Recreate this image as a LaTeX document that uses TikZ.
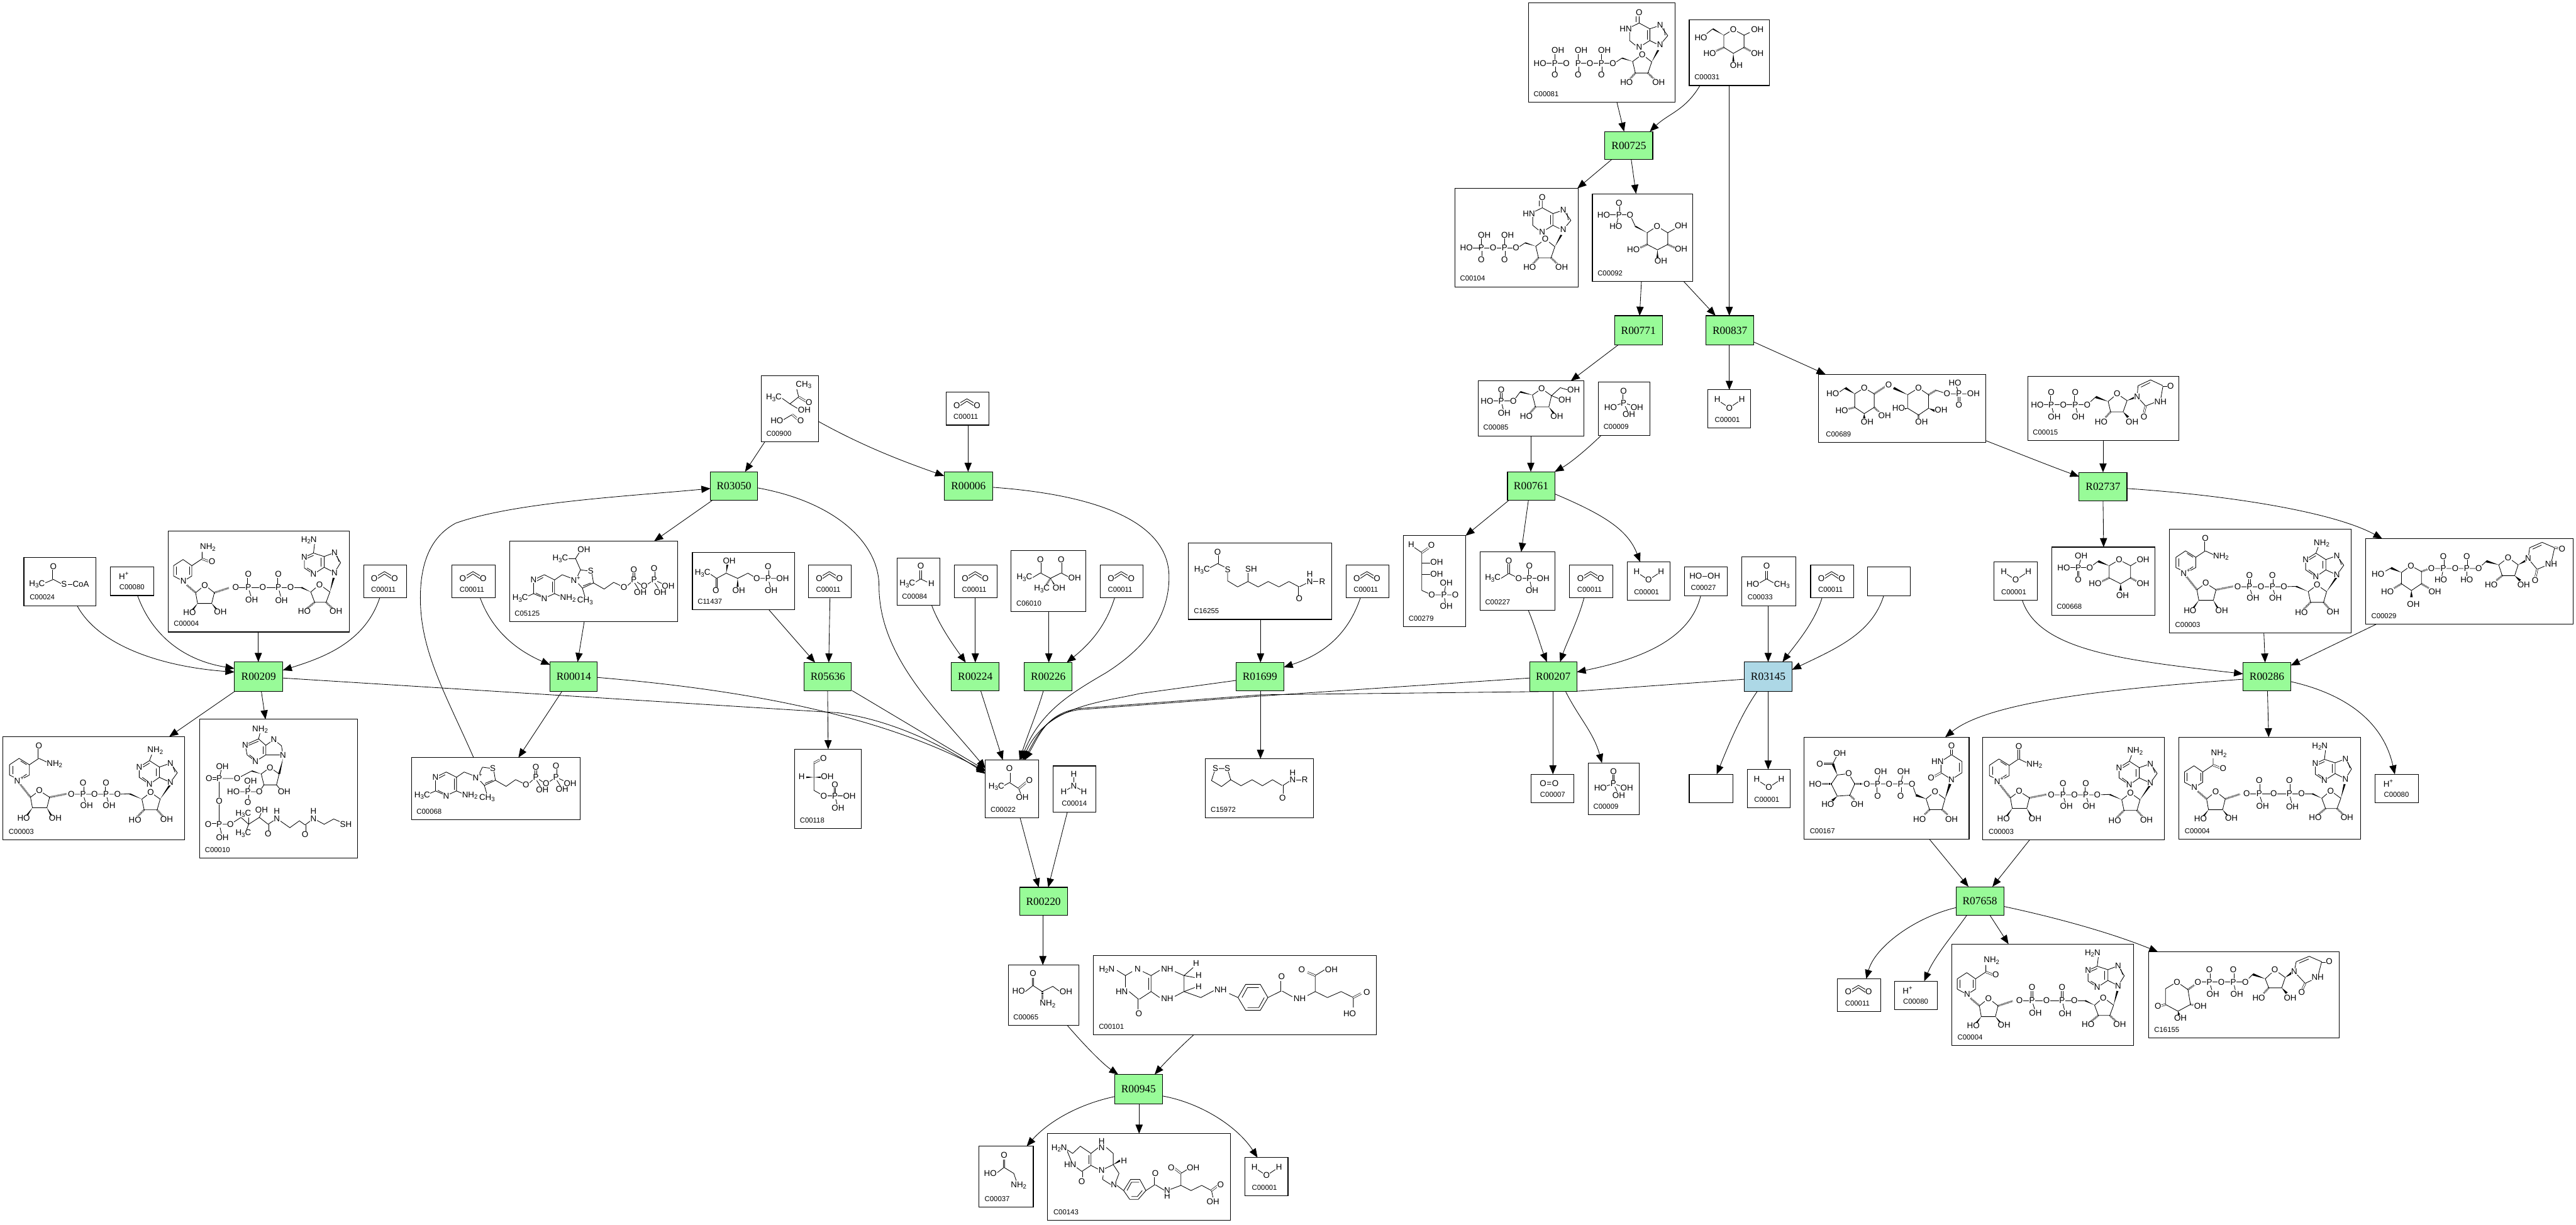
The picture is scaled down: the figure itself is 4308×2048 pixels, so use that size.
\documentclass[tikz,border=0pt]{standalone}
\usepackage{fontspec}
\setmainfont{Liberation Sans}
\newfontfamily\rfont{Liberation Serif}
\usetikzlibrary{arrows.meta,calc}
\pgfdeclarelayer{edgelayer}
\pgfsetlayers{edgelayer,main}
\newcounter{atmc}
\tikzset{
 x=0.01cm,y=-0.01cm,
 cbox/.style={draw=black,line width=0.32pt,fill=white,inner sep=0pt,outer sep=0pt},
 rbox/.style={draw=black,line width=0.32pt,inner sep=0pt,outer sep=0pt,font=\rfont\fontsize{5.2pt}{6pt}\selectfont},
 idl/.style={inner sep=0pt,font=\fontsize{3.4pt}{4pt}\selectfont,anchor=west},
 atom/.style={inner sep=0.15pt,fill=white,font=\fontsize{4pt}{4.8pt}\selectfont},
 bond/.style={line width=0.25pt,line join=round},
 dbond/.style={line width=0.2pt,double=white,double distance=0.55pt},
 hbond/.style={line width=0.9pt,dash pattern=on 0.2pt off 0.35pt},
 conn/.style={line width=0.25pt,-{Triangle[length=0.15cm,width=0.12cm]}},
 z1/.style={shift={(2400,0)},xscale=.6378,yscale=.3571},
 z2/.style={shift={(0,860)},xscale=.6378,yscale=.3827},
 z3/.style={shift={(1600,1000)},xscale=.5102,yscale=.6684},
 z4/.style={shift={(650,600)},xscale=.6378,yscale=.5102},
 z5/.style={shift={(2300,560)},xscale=.6378,yscale=.5357},
 z6/.style={shift={(3000,600)},xscale=.8342,yscale=.7526},
 z7/.style={shift={(1680,890)},xscale=.357,yscale=.333},
}
\newcommand\sbs[1]{\raisebox{-.35ex}{\fontsize{2.9pt}{3pt}\selectfont #1}}
\newcommand\sps[1]{\raisebox{.8ex}{\fontsize{2.9pt}{3pt}\selectfont #1}}
\newcommand\cpd[7]{\node[cbox,minimum width={(#4-#2)*0.01cm},minimum height={(#5-#3)*0.01cm}] (#1) at ({(#2+#4)/2},{(#3+#5)/2}) {};
 \node[idl] (#1id) at ({#2+#7},{#5-14}) {#6};}
\newcommand\rxn[7]{\node[rbox,fill=#7,minimum width={(#4-#2)*0.01cm},minimum height={(#5-#3)*0.01cm}] (#1) at ({(#2+#4)/2},{(#3+#5)/2}) {#6};}
\newcommand\atm[3]{\stepcounter{atmc}\node[atom] (atm\arabic{atmc}) at (#1,#2) {#3};}
\newcommand\bnd[1]{\draw[bond] #1;}
\newcommand\dbb[1]{\draw[dbond] #1;}
\newcommand\wdg[2]{\fill (#1) -- ($(#2)!0.75pt!90:(#1)$) -- ($(#2)!0.75pt!-90:(#1)$) -- cycle;}
\newcommand\hsh[2]{\draw[hbond] (#1) -- (#2);}
\newcommand\pS[2]{(#1.south -| #2,0)}
\newcommand\pN[2]{(#1.north -| #2,0)}
\newcommand\pW[2]{(#1.west |- 0,#2)}
\newcommand\pE[2]{(#1.east |- 0,#2)}
\newcommand\eL[2]{\draw[conn] #1 -- #2;}
\newcommand\eC[4]{\draw[conn] #1 .. controls (#2) and (#3) .. #4;}
% small repeated compounds
\newcommand\cotwo[3]{\cpd{#1}{#2}{#3}{#2+72}{#3+55}{C00011}{12}
 \begin{scope}[shift={(#2,#3)}]\bnd{(18,21)--(35,11)--(52,21)}\bnd{(23,23)--(35,15)--(47,23)}\atm{18}{22}{O}\atm{52}{22}{O}\end{scope}}
\newcommand\wat[3]{\cpd{#1}{#2}{#3}{#2+72}{#3+64}{C00001}{11}
 \begin{scope}[shift={(#2,#3)}]\bnd{(16,17)--(36,30)--(57,16)}\atm{16}{16}{H}\atm{36}{30}{O}\atm{57}{16}{H}\end{scope}}
\newcommand\hplus[3]{\cpd{#1}{#2}{#3}{#2+72}{#3+48}{C00080}{14}
 \begin{scope}[shift={(#2,#3)}]\atm{22}{15}{H\sps{+}}\end{scope}}
\newcommand\nadp[2]{\begin{scope}[shift={(#1,#2)},z2]
 \bnd{(52,1162)--(25,1140)--(25,1095)--(50,1067)--(77,1095)--(77,1140)--cycle}
 \bnd{(33,1135)--(33,1100)}\bnd{(54,1078)--(70,1095)}\bnd{(70,1136)--(58,1150)}
 \bnd{(77,1095)--(102,1067)--(125,1085)}\dbb{(102,1067)--(102,1025)}
 \bnd{(80,1237)--(103,1208)--(130,1237)--(123,1283)--(85,1283)--cycle}
 \hsh{52,1178}{80,1237}\hsh{130,1237}{175,1222}
 \bnd{(187,1224)--(308,1224)--(340,1222)}\wdg{372,1245}{340,1222}
 \dbb{(218,1224)--(218,1190)}\dbb{(278,1224)--(278,1190)}\bnd{(218,1224)--(224,1258)}\bnd{(278,1224)--(284,1258)}
 \bnd{(372,1245)--(395,1216)--(420,1245)--(412,1292)--(378,1292)--cycle}
 \wdg{85,1283}{70,1318}\wdg{123,1283}{135,1318}\hsh{378,1292}{360,1322}\hsh{412,1292}{428,1322}\wdg{420,1245}{445,1185}
 \bnd{(392,1077)--(365,1105)--(365,1150)--(392,1180)--(418,1150)--(418,1105)--cycle}
 \bnd{(410,1145)--(410,1110)}\bnd{(373,1150)--(388,1168)}\bnd{(392,1088)--(375,1105)}\bnd{(452,1095)--(459,1128)}
 \bnd{(418,1105)--(447,1088)--(465,1130)--(447,1172)--(418,1150)}\bnd{(392,1077)--(398,1050)}
 \atm{50}{1163}{N\sps{+}}\atm{102}{1012}{O}\atm{143}{1092}{NH\sbs{2}}\atm{103}{1208}{O}
 \atm{62}{1328}{HO}\atm{145}{1328}{OH}\atm{187}{1224}{O}\atm{218}{1224}{P}\atm{218}{1175}{O}\atm{227}{1272}{OH}
 \atm{248}{1224}{O}\atm{278}{1224}{P}\atm{278}{1175}{O}\atm{286}{1272}{OH}\atm{308}{1224}{O}\atm{395}{1216}{O}
 \atm{354}{1335}{HO}\atm{437}{1333}{OH}\atm{447}{1172}{N}\atm{407}{1033}{NH\sbs{2}}\atm{365}{1105}{N}\atm{392}{1180}{N}\atm{447}{1088}{N}
 \end{scope}}
\newcommand\nadh[2]{\begin{scope}[shift={(#1,#2)},z2]
 \bnd{(481,293)--(455,270)--(455,225)--(480,198)--(503,225)--(503,270)--cycle}
 \bnd{(462,265)--(462,230)}\bnd{(497,230)--(497,265)}
 \bnd{(503,225)--(530,195)--(530,165)}\dbb{(530,195)--(550,208)}
 \hsh{490,310}{513,343}\bnd{(513,343)--(537,310)--(562,343)--(555,390)--(518,390)--cycle}
 \hsh{562,343}{600,322}\bnd{(618,320)--(762,320)--(790,320)}\wdg{815,340}{790,320}
 \dbb{(651,320)--(651,278)}\dbb{(730,320)--(730,278)}\bnd{(651,320)--(658,358)}\bnd{(730,320)--(736,360)}
 \bnd{(815,340)--(838,307)--(865,340)--(855,385)--(825,385)--cycle}
 \hsh{825,385}{805,412}\hsh{855,385}{872,412}\wdg{865,340}{875,278}\wdg{518,390}{505,418}\wdg{555,390}{568,416}
 \bnd{(822,170)--(798,188)--(798,235)--(822,262)--(850,232)--(850,185)--cycle}
 \bnd{(842,228)--(842,190)}\bnd{(805,235)--(820,250)}\bnd{(822,180)--(806,192)}\bnd{(882,175)--(889,208)}
 \bnd{(850,185)--(877,168)--(893,212)--(877,255)--(850,232)}\bnd{(822,170)--(825,127)}
 \atm{481}{293}{N}\atm{556}{208}{O}\atm{545}{145}{NH\sbs{2}}\atm{537}{310}{O}\atm{497}{430}{HO}\atm{578}{427}{OH}
 \atm{618}{320}{O}\atm{651}{320}{P}\atm{651}{262}{O}\atm{660}{374}{OH}\atm{689}{320}{O}\atm{730}{320}{P}\atm{730}{262}{O}\atm{738}{376}{OH}\atm{762}{320}{O}
 \atm{838}{307}{O}\atm{798}{424}{HO}\atm{881}{424}{OH}\atm{877}{255}{N}\atm{877}{168}{N}\atm{798}{188}{N}\atm{822}{262}{N}\atm{810}{113}{H\sbs{2}N}
 \end{scope}}
\newcommand\idpcore{%
 \bnd{(535,72)--(535,108)--(512,128)}\bnd{(510,145)--(510,190)--(525,212)}\bnd{(545,210)--(563,190)--(563,135)--(535,108)}
 \bnd{(557,142)--(557,186)}\bnd{(527,72)--(527,102)}\bnd{(600,132)--(603,165)}
 \bnd{(563,135)--(585,122)}\bnd{(595,130)--(610,167)--(597,195)}\bnd{(580,205)--(563,190)}
 \bnd{(518,288)--(543,255)--(568,290)--(558,342)--(525,342)--cycle}
 \wdg{568,290}{585,235}\hsh{525,342}{510,372}\hsh{558,342}{575,372}\wdg{518,288}{490,272}\bnd{(490,272)--(475,290)}
 \bnd{(466,296)--(375,296)}\bnd{(436,280)--(436,252)}\bnd{(375,280)--(375,252)}\dbb{(436,296)--(436,335)}\dbb{(375,296)--(375,335)}
 \atm{535}{60}{O}\atm{500}{135}{HN}\atm{535}{220}{N}\atm{590}{117}{N}\atm{590}{208}{N}\atm{543}{255}{O}\atm{502}{385}{HO}\atm{586}{385}{OH}
 \atm{466}{296}{O}\atm{436}{296}{P}\atm{406}{296}{O}\atm{375}{296}{P}\atm{444}{236}{OH}\atm{383}{236}{OH}\atm{436}{350}{O}\atm{375}{350}{O}}
\newcommand\thcore{%
 \bnd{(380,725)--(408,708)--(435,725)--(435,770)--(408,785)--(380,770)--cycle}
 \bnd{(429,730)--(429,766)}\bnd{(386,730)--(405,717)}\bnd{(386,768)--(405,780)}
 \bnd{(380,770)--(362,780)}\bnd{(435,770)--(457,782)}\bnd{(435,725)--(455,708)--(480,720)}
 \bnd{(490,727)--(503,692)--(532,697)--(537,735)--(508,752)--cycle}\bnd{(530,735)--(510,745)}\bnd{(508,752)--(515,782)}
 \bnd{(537,735)--(565,755)--(590,733)--(610,745)}\bnd{(625,745)--(643,725)--(663,742)}\bnd{(678,740)--(696,725)--(722,740)}
 \dbb{(643,725)--(643,700)}\dbb{(696,725)--(696,697)}\bnd{(645,735)--(655,755)}\bnd{(698,735)--(708,755)}
 \atm{380}{725}{N}\atm{408}{787}{N}\atm{345}{785}{H\sbs{3}C}\atm{470}{785}{NH\sbs{2}}\atm{490}{725}{N\sps{+}}\atm{530}{696}{S}\atm{515}{793}{CH\sbs{3}}
 \atm{617}{750}{O}\atm{643}{725}{P}\atm{643}{692}{O}\atm{660}{766}{OH}\atm{670}{745}{O}\atm{696}{725}{P}\atm{696}{688}{O}\atm{712}{765}{OH}\atm{733}{745}{OH}}
\newcommand\phos[2]{\begin{scope}[shift={(#1,#2)},z5]
 \bnd{(651,212)--(617,226)}\bnd{(651,212)--(686,226)}\bnd{(651,212)--(665,248)}\dbb{(651,212)--(651,185)}
 \atm{651}{175}{O}\atm{651}{212}{P}\atm{617}{226}{HO}\atm{686}{226}{OH}\atm{665}{248}{OH}\end{scope}}
\begin{document}
\begin{tikzpicture}
\useasboundingbox (0,0) rectangle (4308,2048);
\definecolor{pg}{RGB}{152,251,152}
\definecolor{lb}{RGB}{173,216,230}
% reactions
\rxn{r725}{2684}{220}{2764}{267}{R00725}{pg}
\rxn{r771}{2700}{528}{2780}{577}{R00771}{pg}
\rxn{r837}{2853}{528}{2933}{577}{R00837}{pg}
\rxn{r761}{2521}{789}{2600}{837}{R00761}{pg}
\rxn{r2737}{3477}{790}{3557}{838}{R02737}{pg}
\rxn{r3145}{2917}{1107}{2997}{1156}{R03145}{lb}
\rxn{r207}{2558}{1107}{2637}{1156}{R00207}{pg}
\rxn{r286}{3751}{1108}{3831}{1155}{R00286}{pg}
\rxn{r7658}{3271}{1483}{3351}{1531}{R07658}{pg}
\rxn{r209}{392}{1107}{473}{1156}{R00209}{pg}
\rxn{r14}{920}{1107}{999}{1156}{R00014}{pg}
\rxn{r3050}{1188}{789}{1267}{837}{R03050}{pg}
\rxn{r6}{1579}{789}{1660}{837}{R00006}{pg}
\rxn{r5636}{1345}{1108}{1424}{1155}{R05636}{pg}
\rxn{r224}{1591}{1108}{1671}{1155}{R00224}{pg}
\rxn{r226}{1713}{1108}{1793}{1155}{R00226}{pg}
\rxn{r1699}{2067}{1108}{2147}{1155}{R01699}{pg}
\rxn{r220}{1705}{1484}{1785}{1531}{R00220}{pg}
\rxn{r945}{1864}{1797}{1944}{1846}{R00945}{pg}
% compounds
\cpd{c81}{2556}{5}{2801}{171}{C00081}{8}
\begin{scope}[z1]\idpcore
 \bnd{(344,296)--(275,296)}\bnd{(314,280)--(314,252)}\dbb{(314,296)--(314,335)}
 \atm{344}{296}{O}\atm{314}{296}{P}\atm{275}{296}{HO}\atm{322}{236}{OH}\atm{314}{350}{O}\end{scope}
\cpd{c104}{2433}{315}{2639}{480}{C00104}{8}
\begin{scope}[shift={(-162,309)},z1]\idpcore\bnd{(375,296)--(340,296)}\atm{336}{296}{HO}\end{scope}
\cpd{c31}{2825}{33}{2959}{143}{C00031}{8}
\begin{scope}[z1]\bnd{(757,165)--(782,138)--(810,165)--(810,222)--(782,250)--(757,222)--cycle}
 \wdg{757,165}{728,135}\bnd{(728,135)--(712,158)}\bnd{(810,165)--(825,152)}\hsh{757,222}{735,240}\hsh{810,222}{828,240}\wdg{782,250}{782,288}
 \atm{782}{138}{O}\atm{697}{175}{HO}\atm{845}{138}{OH}\atm{720}{250}{HO}\atm{845}{250}{OH}\atm{790}{305}{OH}\end{scope}
\cpd{c92}{2663}{324}{2831}{471}{C00092}{8}
\begin{scope}[z1]\bnd{(556,1090)--(582,1060)--(610,1090)--(610,1145)--(583,1170)--(556,1145)--cycle}
 \wdg{556,1090}{525,1060}\bnd{(525,1060)--(511,1006)}\bnd{(511,1006)--(442,1006)}\bnd{(482,1006)--(476,1048)}\dbb{(482,1006)--(482,962)}
 \bnd{(610,1090)--(628,1072)}\hsh{556,1145}{538,1160}\hsh{610,1145}{628,1160}\wdg{583,1170}{583,1208}
 \atm{582}{1060}{O}\atm{645}{1058}{OH}\atm{520}{1168}{HO}\atm{645}{1165}{OH}\atm{592}{1223}{OH}\atm{511}{1006}{O}\atm{482}{1006}{P}\atm{442}{1006}{HO}\atm{482}{950}{O}\atm{474}{1060}{HO}\end{scope}
\cpd{c85}{2472}{637}{2649}{729}{C00085}{8}
\begin{scope}[z5]\dbb{(330,207)--(330,182)}\bnd{(293,207)--(362,207)}\bnd{(330,207)--(336,235)}\bnd{(362,207)--(380,178)}\wdg{412,188}{380,178}
 \bnd{(412,188)--(436,168)--(462,190)--(455,225)--(420,225)--cycle}\bnd{(462,190)--(485,165)--(505,172)}\bnd{(462,190)--(483,200)}
 \hsh{420,225}{405,245}\wdg{455,225}{468,245}
 \atm{330}{172}{O}\atm{330}{207}{P}\atm{293}{207}{HO}\atm{362}{207}{O}\atm{338}{244}{OH}\atm{436}{168}{O}\atm{520}{172}{OH}\atm{497}{203}{OH}\atm{396}{254}{HO}\atm{476}{255}{OH}\end{scope}
\cpd{c9a}{2673}{639}{2759}{728}{C00009}{8}\phos{0}{0}
\cpd{c9b}{2656}{1276}{2741}{1363}{C00009}{8}\phos{-17}{637}
\wat{w1}{2856}{652}
\cpd{c689}{3041}{626}{3321}{740}{C00689}{12}
\begin{scope}[z6]\bnd{(122,78)--(141,65)--(161,78)--(161,108)--(141,122)--(122,108)--cycle}\wdg{122,78}{103,65}\bnd{(103,65)--(90,75)}\hsh{122,108}{108,112}\wdg{141,122}{141,133}\hsh{161,108}{172,120}\hsh{161,78}{183,62}
 \wdg{228,80}{200,65}\bnd{(228,80)--(250,65)--(270,80)--(270,110)--(250,125)--(228,110)--cycle}\wdg{228,110}{218,112}\wdg{270,110}{283,116}\hsh{250,125}{250,133}\hsh{270,80}{285,70}\bnd{(285,70)--(307,78)--(360,78)}\bnd{(331,78)--(326,62)}\dbb{(331,78)--(331,95)}
 \atm{141}{65}{O}\atm{78}{77}{HO}\atm{96}{115}{HO}\atm{147}{140}{OH}\atm{182}{126}{OH}\atm{190}{58}{O}\atm{250}{65}{O}\atm{210}{110}{HO}\atm{295}{114}{OH}\atm{256}{140}{OH}\atm{307}{78}{O}\atm{331}{78}{P}\atm{323}{54}{HO}\atm{360}{78}{OH}\atm{331}{103}{O}\end{scope}
\cpd{c279}{2347}{896}{2451}{1048}{C00279}{8}
\begin{scope}[z5]\bnd{(100,662)--(122,680)--(122,798)--(148,812)--(210,812)}\dbb{(122,680)--(140,665)}\bnd{(122,712)--(145,712)}\bnd{(122,748)--(145,748)}\bnd{(180,812)--(184,785)}\bnd{(180,812)--(184,838)}
 \atm{94}{655}{H}\atm{147}{656}{O}\atm{161}{710}{OH}\atm{161}{746}{OH}\atm{148}{812}{O}\atm{180}{812}{P}\atm{210}{812}{O}\atm{186}{775}{OH}\atm{186}{848}{OH}\end{scope}
\cpd{c227}{2475}{923}{2600}{1021}{C00227}{8}
\begin{scope}[z5]\dbb{(350,745)--(350,716)}\bnd{(330,760)--(350,745)--(376,760)--(440,760)}\bnd{(404,760)--(409,788)}\dbb{(404,760)--(404,732)}
 \atm{350}{706}{O}\atm{308}{760}{H\sbs{3}C}\atm{376}{760}{O}\atm{404}{760}{P}\atm{404}{722}{O}\atm{440}{760}{OH}\atm{411}{798}{OH}\end{scope}
\cotwo{co2a}{2625}{945}
\wat{w2}{2721}{940}
\cpd{c27}{2817}{948}{2889}{997}{C00027}{10}
\begin{scope}[z5]\atm{864}{752}{HO\kern.2pt--\kern.2pt OH}\end{scope}
\cpd{c33}{2913}{931}{3003}{1013}{C00033}{9}
\begin{scope}[z5]\dbb{(1026,737)--(1026,764)}\bnd{(1007,775)--(1026,762)--(1045,775)}\atm{1026}{722}{O}\atm{990}{778}{HO}\atm{1066}{780}{CH\sbs{3}}\end{scope}
\cotwo{co2b}{3028}{945}
\node[cbox,minimum width=0.72cm,minimum height=0.49cm] (bl1) at (3159,972.5) {};
\cpd{c7}{2560}{1295}{2632}{1343}{C00007}{15}
\begin{scope}[z5]\atm{456}{1400}{O\kern.2pt=\kern.2pt O}\end{scope}
\node[cbox,minimum width=0.73cm,minimum height=0.48cm] (bl2) at (2861.5,1319) {};
\wat{w3}{2922}{1287}
\cpd{c15}{3391}{629}{3644}{737}{C00015}{8}
\begin{scope}[z6]\bnd{(488,102)--(588,102)--(605,85)}\dbb{(516,102)--(516,82)}\dbb{(564,102)--(564,82)}\bnd{(516,102)--(520,120)}\bnd{(564,102)--(568,120)}\wdg{630,95}{605,85}
 \bnd{(630,95)--(648,78)--(668,93)--(660,118)--(635,118)--cycle}\hsh{635,118}{625,130}\wdg{660,118}{670,130}\wdg{668,93}{686,85}
 \bnd{(688,84)--(690,60)--(715,47)--(740,60)--(735,92)--(705,105)--cycle}\bnd{(696,63)--(714,53)}\dbb{(740,60)--(750,60)}\dbb{(705,105)--(702,120)}
 \atm{488}{102}{HO}\atm{516}{102}{P}\atm{516}{75}{O}\atm{522}{129}{OH}\atm{540}{102}{O}\atm{564}{102}{P}\atm{564}{75}{O}\atm{570}{129}{OH}\atm{588}{102}{O}\atm{648}{78}{O}\atm{616}{140}{HO}\atm{678}{140}{OH}\atm{688}{84}{N}\atm{755}{60}{O}\atm{735}{95}{NH}\atm{702}{129}{O}\end{scope}
\cpd{c668}{3431}{915}{3604}{1029}{C00668}{8}
\begin{scope}[z6]\bnd{(541,464)--(593,464)--(610,450)}\bnd{(570,464)--(575,447)}\dbb{(570,464)--(570,483)}\wdg{632,460}{610,450}
 \bnd{(632,460)--(652,447)--(675,460)--(675,487)--(655,500)--(632,487)--cycle}\bnd{(675,460)--(690,450)}\hsh{632,487}{617,495}\hsh{675,487}{688,495}\wdg{655,500}{655,515}
 \atm{541}{464}{HO}\atm{570}{464}{P}\atm{576}{438}{OH}\atm{570}{491}{O}\atm{593}{464}{O}\atm{652}{447}{O}\atm{700}{447}{OH}\atm{604}{500}{HO}\atm{700}{500}{OH}\atm{659}{526}{OH}\end{scope}
\cpd{n3a}{3628}{885}{3932}{1059}{C00003}{9}\nadp{3623}{-347}
\cpd{c29}{3956}{901}{4303}{1044}{C00029}{9}
\begin{scope}[z6]\bnd{(1186,472)--(1197,465)}\wdg{1218,475}{1197,465}\bnd{(1218,475)--(1237,460)--(1258,473)--(1258,500)--(1238,515)--(1218,500)--cycle}
 \hsh{1218,500}{1203,510}\hsh{1258,500}{1273,510}\wdg{1238,515}{1238,530}\hsh{1258,473}{1270,468}
 \bnd{(1278,466)--(1373,466)--(1388,450)}\dbb{(1302,466)--(1302,447)}\dbb{(1349,466)--(1349,447)}\bnd{(1302,466)--(1299,483)}\bnd{(1349,466)--(1349,483)}\wdg{1413,458}{1388,450}
 \bnd{(1413,458)--(1432,442)--(1452,458)--(1445,482)--(1420,482)--cycle}\hsh{1420,482}{1408,493}\wdg{1445,482}{1456,493}\wdg{1452,458}{1470,447}
 \bnd{(1472,444)--(1475,420)--(1500,408)--(1525,420)--(1518,455)--(1490,468)--cycle}\bnd{(1481,423)--(1499,414)}\dbb{(1525,420)--(1534,421)}\dbb{(1490,468)--(1487,484)}
 \atm{1171}{479}{HO}\atm{1237}{460}{O}\atm{1190}{518}{HO}\atm{1285}{518}{OH}\atm{1242}{545}{OH}\atm{1278}{466}{O}\atm{1302}{466}{P}\atm{1302}{439}{O}\atm{1297}{491}{HO}\atm{1326}{466}{O}\atm{1349}{466}{P}\atm{1349}{439}{O}\atm{1349}{491}{HO}\atm{1373}{466}{O}\atm{1432}{442}{O}\atm{1398}{502}{HO}\atm{1463}{502}{OH}\atm{1472}{444}{N}\atm{1540}{422}{O}\atm{1518}{456}{NH}\atm{1486}{492}{O}\end{scope}
\wat{w4}{3335}{940}
\cpd{c167}{3017}{1233}{3293}{1404}{C00167}{9}
\begin{scope}[z6]\bnd{(87,925)--(110,922)--(122,945)--(112,970)--(87,972)--(75,945)--cycle}\wdg{87,925}{78,900}\bnd{(78,900)--(85,885)}\dbb{(78,900)--(60,900)}
 \hsh{75,945}{58,945}\wdg{87,972}{77,982}\hsh{112,970}{122,980}\hsh{122,945}{138,945}\bnd{(146,945)--(237,945)--(245,970)}\dbb{(168,945)--(168,964)}\dbb{(214,945)--(214,964)}\bnd{(168,945)--(172,926)}\bnd{(214,945)--(218,926)}
 \wdg{265,978}{245,970}\bnd{(265,978)--(283,962)--(303,978)--(297,1002)--(272,1002)--cycle}\hsh{272,1002}{262,1013}\hsh{297,1002}{308,1013}\wdg{303,978}{313,945}
 \bnd{(316,935)--(295,920)--(295,895)--(316,880)--(337,895)--(337,920)--cycle}\bnd{(331,898)--(331,917)}\dbb{(295,920)--(282,928)}\dbb{(316,880)--(316,868)}
 \atm{92}{877}{OH}\atm{52}{900}{O}\atm{110}{922}{O}\atm{43}{945}{HO}\atm{68}{990}{HO}\atm{127}{990}{OH}\atm{146}{945}{O}\atm{168}{945}{P}\atm{174}{917}{OH}\atm{168}{972}{O}\atm{191}{945}{O}\atm{214}{945}{P}\atm{220}{917}{OH}\atm{214}{972}{O}\atm{237}{945}{O}\atm{283}{962}{O}\atm{252}{1024}{HO}\atm{316}{1024}{OH}\atm{316}{935}{N}\atm{275}{932}{O}\atm{288}{895}{HN}\atm{316}{860}{O}\end{scope}
\cpd{n3b}{3316}{1233}{3620}{1405}{C00003}{9}\nadp{3311}{1}
\cpd{n4a}{3644}{1233}{3948}{1404}{C00004}{9}\nadh{3363}{345}
\hplus{hp1}{3972}{1295}
\cotwo{co2c}{3073}{1637}
\hplus{hp2}{3168}{1641}
\cpd{n4b}{3264}{1579}{3568}{1749}{C00004}{9}\nadh{2983}{691}
\cpd{c16155}{3593}{1592}{3912}{1736}{C16155}{9}
\begin{scope}[z6]\bnd{(768,1385)--(745,1400)--(745,1435)--(770,1450)--(795,1435)--(790,1402)--cycle}\dbb{(745,1435)--(735,1438)}\wdg{770,1450}{772,1458}\hsh{795,1435}{808,1438}\hsh{790,1402}{805,1390}
 \bnd{(810,1385)--(905,1385)--(920,1368)}\dbb{(833,1385)--(833,1366)}\dbb{(881,1385)--(881,1366)}\bnd{(833,1385)--(838,1403)}\bnd{(881,1385)--(885,1403)}\wdg{945,1378}{920,1368}
 \bnd{(945,1378)--(964,1358)--(985,1375)--(978,1398)--(952,1398)--cycle}\hsh{952,1398}{942,1410}\wdg{978,1398}{988,1410}\wdg{985,1375}{998,1365}
 \bnd{(1003,1362)--(1007,1340)--(1033,1328)--(1058,1340)--(1050,1375)--(1025,1388)--cycle}\bnd{(1013,1343)--(1032,1334)}\dbb{(1058,1340)--(1066,1340)}\dbb{(1025,1388)--(1020,1400)}
 \atm{768}{1385}{O}\atm{730}{1438}{O}\atm{775}{1465}{OH}\atm{815}{1438}{OH}\atm{810}{1385}{O}\atm{833}{1385}{P}\atm{833}{1358}{O}\atm{840}{1412}{OH}\atm{857}{1385}{O}\atm{881}{1385}{P}\atm{881}{1358}{O}\atm{888}{1412}{OH}\atm{905}{1385}{O}\atm{964}{1358}{O}\atm{932}{1420}{HO}\atm{995}{1420}{OH}\atm{1003}{1362}{N}\atm{1073}{1340}{O}\atm{1050}{1375}{NH}\atm{1018}{1408}{O}\end{scope}
% left
\cpd{c24}{40}{932}{160}{1013}{C00024}{9}
\begin{scope}[z2]\dbb{(140,285)--(140,242)}\bnd{(115,303)--(140,285)--(160,303)}\bnd{(178,306)--(190,306)}\atm{140}{228}{O}\atm{97}{306}{H\sbs{3}C}\atm{168}{306}{S}\atm{212}{306}{CoA}\end{scope}
\hplus{hp3}{185}{948}
\cpd{n4c}{281}{888}{584}{1057}{C00004}{9}\nadh{0}{0}
\cotwo{co2d}{608}{945}
\cotwo{co2e}{756}{945}
\cpd{n3c}{5}{1232}{309}{1405}{C00003}{9}\nadp{0}{0}
\cpd{c10}{334}{1203}{598}{1435}{C00010}{8}
\begin{scope}[z2]\bnd{(678,982)--(643,1008)--(648,1052)--(670,1080)--(697,1052)--(697,1010)--cycle}\bnd{(697,1010)--(718,985)--(738,1012)--(742,1052)--(697,1052)}\bnd{(678,982)--(682,955)}
 \bnd{(690,1015)--(690,1048)}\bnd{(654,1052)--(668,1070)}\bnd{(678,992)--(652,1010)}
 \wdg{742,1068}{732,1135}\bnd{(732,1135)--(708,1107)--(685,1135)--(692,1183)--(725,1183)--cycle}\wdg{685,1135}{660,1122}\bnd{(660,1122)--(622,1155)--(575,1155)}
 \dbb{(575,1155)--(555,1155)}\bnd{(575,1155)--(580,1118)}\bnd{(575,1155)--(575,1355)}\dbb{(575,1355)--(555,1355)}\bnd{(575,1355)--(581,1398)}\bnd{(575,1355)--(604,1355)--(632,1325)--(652,1355)--(680,1325)--(703,1355)--(726,1330)--(760,1370)--(785,1340)--(800,1358)--(822,1330)--(850,1355)--(875,1332)--(907,1355)}
 \dbb{(703,1355)--(703,1385)}\dbb{(800,1358)--(800,1388)}\bnd{(652,1355)--(652,1325)}\bnd{(652,1355)--(645,1385)}\bnd{(680,1325)--(685,1305)}
 \bnd{(692,1183)--(680,1213)--(612,1213)}\bnd{(650,1213)--(655,1180)}\dbb{(650,1213)--(650,1245)}\bnd{(725,1183)--(735,1203)}
 \atm{682}{940}{NH\sbs{2}}\atm{643}{1008}{N}\atm{670}{1080}{N}\atm{718}{985}{N}\atm{742}{1052}{N}\atm{708}{1107}{O}\atm{622}{1155}{O}\atm{575}{1155}{P}\atm{548}{1155}{O}\atm{583}{1103}{OH}\atm{575}{1253}{O}\atm{575}{1355}{P}\atm{546}{1355}{O}\atm{583}{1412}{OH}\atm{604}{1355}{O}\atm{638}{1308}{H\sbs{3}C}\atm{638}{1395}{H\sbs{3}C}\atm{686}{1292}{OH}\atm{703}{1397}{O}\atm{726}{1297}{H}\atm{726}{1330}{N}\atm{800}{1400}{O}\atm{822}{1298}{H}\atm{822}{1330}{N}\atm{907}{1355}{SH}\atm{680}{1213}{O}\atm{650}{1213}{P}\atm{612}{1213}{HO}\atm{657}{1167}{OH}\atm{650}{1258}{O}\atm{745}{1213}{OH}\end{scope}
\cpd{c5125}{852}{905}{1133}{1040}{C05125}{8}
\begin{scope}[z4]\thcore\bnd{(503,692)--(490,655)--(500,635)}\bnd{(470,655)--(490,655)}\atm{450}{655}{H\sbs{3}C}\atm{512}{625}{OH}\end{scope}
\cpd{c68}{688}{1267}{970}{1371}{C00068}{8}
\begin{scope}[shift={(-164,330)},z4]\thcore\end{scope}
\cpd{c900}{1273}{628}{1369}{739}{C00900}{8}
\begin{scope}[z4]\bnd{(1070,100)--(1075,125)--(1052,148)--(1032,130)}\bnd{(1052,148)--(1075,165)}\dbb{(1075,125)--(1095,140)}\bnd{(1035,200)--(1058,183)}\dbb{(1058,183)--(1072,198)}
 \atm{1088}{85}{CH\sbs{3}}\atm{1102}{143}{O}\atm{1010}{128}{H\sbs{3}C}\atm{1090}{167}{OH}\atm{1018}{202}{HO}\atm{1080}{203}{O}\end{scope}
\cotwo{co2f}{1582}{656}
\cpd{c11437}{1158}{924}{1329}{1020}{C11437}{8}
\begin{scope}[z4]\bnd{(842,705)--(860,720)--(885,703)--(915,720)--(942,703)--(965,720)--(1033,720)}\dbb{(860,720)--(860,750)}\wdg{885,703}{888,675}\wdg{915,720}{915,748}\dbb{(995,720)--(995,692)}\bnd{(995,720)--(1001,750)}
 \atm{823}{703}{H\sbs{3}C}\atm{858}{760}{O}\atm{893}{662}{OH}\atm{918}{760}{OH}\atm{965}{720}{O}\atm{995}{720}{P}\atm{995}{682}{O}\atm{1033}{720}{OH}\atm{1003}{760}{OH}\end{scope}
\cotwo{co2g}{1352}{945}
\cpd{c84}{1500}{933}{1572}{1012}{C00084}{8}
\begin{scope}[z4]\dbb{(1395,693)--(1395,722)}\bnd{(1375,737)--(1395,722)--(1412,732)}\atm{1395}{680}{O}\atm{1360}{738}{H\sbs{3}C}\atm{1423}{736}{H}\end{scope}
\cotwo{co2h}{1596}{945}
\cpd{c118}{1329}{1253}{1440}{1386}{C00118}{8}
\begin{scope}[z4]\dbb{(1115,1325)--(1130,1315)}\bnd{(1115,1325)--(1115,1415)--(1141,1433)--(1208,1433)}\wdg{1115,1372}{1095,1372}\wdg{1115,1372}{1135,1372}\dbb{(1170,1433)--(1170,1406)}\bnd{(1170,1433)--(1176,1462)}
 \atm{1140}{1310}{O}\atm{1083}{1370}{H}\atm{1150}{1370}{OH}\atm{1141}{1433}{O}\atm{1170}{1433}{P}\atm{1170}{1396}{O}\atm{1208}{1433}{OH}\atm{1178}{1472}{OH}\end{scope}
\cpd{c6010}{1691}{921}{1816}{1023}{C06010}{8}
\begin{scope}[z7]\dbb{(168,155)--(168,205)}\bnd{(132,228)--(168,205)--(215,232)--(265,205)--(300,225)}\dbb{(265,155)--(265,205)}\hsh{215,232}{195,265}\wdg{215,232}{232,262}
 \atm{168}{138}{O}\atm{93}{228}{H\sbs{3}C}\atm{265}{138}{O}\atm{328}{228}{OH}\atm{175}{285}{H\sbs{3}C}\atm{255}{280}{OH}\end{scope}
\cotwo{co2i}{1840}{945}
\cpd{c16255}{1987}{908}{2227}{1036}{C16255}{9}
\begin{scope}[z7]\dbb{(998,115)--(998,158)}\bnd{(960,180)--(998,158)--(1030,175)}\bnd{(1045,205)--(1045,245)--(1092,275)--(1140,248)--(1188,275)--(1235,248)--(1285,275)--(1332,248)--(1380,275)--(1418,255)}\bnd{(1140,248)--(1140,205)}\dbb{(1380,275)--(1380,320)}\bnd{(1445,248)--(1470,248)}
 \atm{998}{100}{O}\atm{925}{190}{H\sbs{3}C}\atm{1045}{188}{S}\atm{1155}{185}{SH}\atm{1380}{335}{O}\atm{1430}{210}{H}\atm{1430}{248}{N}\atm{1488}{248}{R}\end{scope}
\cotwo{co2j}{2251}{945}
\cpd{c22}{1648}{1271}{1737}{1368}{C00022}{8}
\begin{scope}[z3]\dbb{(173,438)--(173,462)}\bnd{(150,472)--(173,462)--(203,477)--(210,490)}\dbb{(203,477)--(230,460)}\atm{173}{426}{O}\atm{130}{472}{H\sbs{3}C}\atm{238}{456}{O}\atm{215}{499}{OH}\end{scope}
\cpd{c14}{1761}{1281}{1833}{1358}{C00014}{14}
\begin{scope}[z3]\bnd{(384,441)--(384,470)--(351,485)}\bnd{(384,470)--(417,485)}\atm{384}{441}{H}\atm{384}{470}{N}\atm{351}{485}{H}\atm{417}{485}{H}\end{scope}
\cpd{c15972}{2016}{1269}{2197}{1368}{C15972}{8}
\begin{scope}[z3]\bnd{(848,427)--(887,427)--(898,455)--(868,472)--(835,457)--cycle}\bnd{(898,455)--(932,470)--(968,455)--(1002,470)--(1035,455)--(1068,470)--(1092,458)}\dbb{(1068,470)--(1068,490)}\bnd{(1112,455)--(1130,455)}
 \atm{848}{427}{S}\atm{887}{427}{S}\atm{1068}{500}{O}\atm{1101}{437}{H}\atm{1101}{455}{N}\atm{1141}{455}{R}\end{scope}
\cpd{c65}{1686}{1614}{1804}{1715}{C00065}{8}
\begin{scope}[z3]\dbb{(250,950)--(250,970)}\bnd{(225,985)--(250,970)--(280,985)--(315,972)--(338,985)}\hsh{280,985}{280,1005}\atm{250}{940}{O}\atm{203}{984}{HO}\atm{298}{1016}{NH\sbs{2}}\atm{358}{985}{OH}\end{scope}
\cpd{c101}{1828}{1598}{2302}{1731}{C00101}{9}
\begin{scope}[z3]\bnd{(525,932)--(553,945)--(575,935)}\bnd{(553,945)--(553,975)}\bnd{(610,935)--(637,945)--(637,985)--(597,1005)--(565,985)}\bnd{(630,950)--(630,980)}\dbb{(597,1005)--(597,1030)}\bnd{(637,945)--(665,932)}\bnd{(637,985)--(665,1000)}
 \bnd{(715,935)--(745,945)--(745,985)--(715,997)}\bnd{(745,945)--(775,925)}\bnd{(745,945)--(780,950)}\bnd{(745,985)--(780,975)}\bnd{(745,985)--(800,1000)--(842,983)}\bnd{(893,990)--(922,1000)}
 \bnd{(922,1000)--(947,967)--(995,967)--(1020,1000)--(995,1032)--(947,1032)--cycle}\bnd{(935,1000)--(953,975)--(990,975)}\bnd{(953,1025)--(990,1025)--(1008,1000)}\bnd{(1020,1000)--(1065,983)--(1100,998)}\dbb{(1065,983)--(1065,958)}
 \bnd{(1150,995)--(1175,985)--(1175,945)--(1207,930)}\dbb{(1175,945)--(1150,937)}\bnd{(1175,985)--(1215,1000)--(1260,985)--(1300,1000)--(1300,1025)}\dbb{(1300,1000)--(1325,990)}
 \atm{492}{930}{H\sbs{2}N}\atm{593}{928}{N}\atm{541}{985}{HN}\atm{597}{1040}{O}\atm{690}{928}{NH}\atm{690}{1002}{NH}\atm{785}{915}{H}\atm{793}{945}{H}\atm{793}{972}{H}\atm{865}{980}{NH}\atm{1065}{947}{O}\atm{1124}{1003}{NH}\atm{1131}{930}{O}\atm{1228}{930}{OH}\atm{1344}{987}{O}\atm{1288}{1041}{HO}\end{scope}
\cpd{c37}{1637}{1917}{1728}{2019}{C00037}{9}
\begin{scope}[z3]\dbb{(155,1405)--(155,1425)}\bnd{(133,1438)--(155,1425)--(187,1440)--(195,1458)}\atm{155}{1395}{O}\atm{110}{1440}{HO}\atm{203}{1470}{NH\sbs{2}}\end{scope}
\cpd{c143}{1752}{1896}{2058}{2041}{C00143}{9}
\begin{scope}[z3]\bnd{(360,1380)--(380,1390)--(405,1372)--(440,1390)--(440,1420)--(410,1435)--(380,1418)--cycle}\bnd{(434,1394)--(434,1416)}\dbb{(410,1435)--(410,1450)}\bnd{(440,1390)--(465,1375)}\bnd{(440,1420)--(465,1430)}
 \bnd{(490,1375)--(513,1390)--(513,1418)--(475,1432)}\bnd{(480,1445)--(478,1455)--(505,1468)}\bnd{(513,1418)--(532,1440)--(522,1460)}\wdg{513,1418}{535,1408}\bnd{(525,1470)--(547,1483)}
 \bnd{(547,1483)--(570,1455)--(600,1455)--(620,1483)--(595,1505)--(567,1505)--cycle}\bnd{(558,1483)--(573,1462)--(598,1462)}\bnd{(573,1498)--(592,1498)--(608,1483)}\bnd{(620,1483)--(650,1468)--(680,1482)}\dbb{(650,1468)--(650,1450)}\bnd{(700,1480)--(735,1470)--(735,1440)--(760,1428)}\dbb{(735,1440)--(715,1428)}\bnd{(735,1470)--(768,1483)--(803,1470)--(835,1483)--(840,1500)}\dbb{(835,1483)--(857,1470)}
 \atm{336}{1377}{H\sbs{2}N}\atm{372}{1418}{HN}\atm{410}{1460}{O}\atm{475}{1360}{H}\atm{475}{1376}{N}\atm{548}{1408}{H}\atm{475}{1432}{N}\atm{515}{1469}{N}\atm{651}{1440}{O}\atm{690}{1497}{H}\atm{690}{1483}{N}\atm{703}{1425}{O}\atm{775}{1425}{OH}\atm{865}{1468}{O}\atm{840}{1510}{OH}\end{scope}
\wat{w5}{2082}{1936}
% connectors
\begin{pgfonlayer}{edgelayer}
\fill[white] (0,0) rectangle (4308,2048);
\eL{\pS{c81}{2704}}{\pN{r725}{2716}}
\eC{\pS{c31}{2843}}{2818,185}{2790,190}{\pN{r725}{2759}}
\eL{\pS{r725}{2695}}{\pN{c104}{2638}}
\eL{\pS{r725}{2728}}{\pN{c92}{2736}}
\eL{\pS{c92}{2745}}{\pN{r771}{2742}}
\eL{\pS{c92}{2816}}{\pN{r837}{2869}}
\eL{\pS{c31}{2892}}{\pN{r837}{2892}}
\eL{\pS{r771}{2706}}{\pN{c85}{2627}}
\eL{\pS{r837}{2892}}{\pN{w1}{2892}}
\eL{\pE{r837}{572}}{\pN{c689}{3053}}
\eL{\pS{c85}{2560}}{\pN{r761}{2560}}
\eC{\pS{c9a}{2678}}{2650,755}{2625,775}{\pN{r761}{2600}}
\eL{\pS{r761}{2523}}{\pN{c279}{2451}}
\eL{\pS{r761}{2556}}{\pN{c227}{2544}}
\eC{\pE{r761}{826}}{2680,860}{2722,885}{\pN{w2}{2743}}
\eC{\pS{c227}{2556}}{2568,1050}{2578,1085}{\pN{r207}{2587}}
\eC{\pS{co2a}{2649}}{2640,1035}{2620,1075}{\pN{r207}{2609}}
\eC{\pS{c27}{2844}}{2825,1075}{2730,1105}{\pE{r207}{1124}}
\eL{\pS{c33}{2957}}{\pN{r3145}{2957}}
\eC{\pS{co2b}{3047}}{3035,1040}{3005,1075}{\pN{r3145}{2981}}
\eC{\pS{bl1}{3150}}{3130,1060}{3070,1085}{\pE{r3145}{1120}}
\eL{\pS{r207}{2597}}{\pN{c7}{2597}}
\eC{\pS{r207}{2618}}{2640,1200}{2665,1225}{\pN{c9b}{2679}}
\eC{\pS{r3145}{2939}}{2915,1190}{2895,1235}{\pN{bl2}{2871}}
\eL{\pS{r3145}{2957}}{\pN{w3}{2957}}
\eC{\pE{c689}{737}}{3380,760}{3430,780}{\pW{r2737}{797}}
\eL{\pS{c15}{3517}}{\pN{r2737}{3517}}
\eL{\pS{r2737}{3517}}{\pN{c668}{3518}}
\eC{\pE{r2737}{817}}{3750,830}{3910,860}{\pN{c29}{3984}}
\eC{\pS{w4}{3382}}{3410,1090}{3560,1105}{\pW{r286}{1127}}
\eL{\pS{n3a}{3786}}{\pN{r286}{3788}}
\eL{\pS{c29}{3974}}{\pE{r286}{1113}}
\eC{\pW{r286}{1136}}{3560,1150}{3330,1170}{\pN{c167}{3253}}
\eL{\pS{r286}{3792}}{\pN{n4a}{3794}}
\eC{\pE{r286}{1140}}{3920,1160}{3985,1205}{\pN{hp1}{4005}}
\eL{\pS{c167}{3227}}{\pN{r7658}{3292}}
\eL{\pS{n3b}{3394}}{\pN{r7658}{3332}}
\eC{\pW{r7658}{1518}}{3200,1535}{3135,1585}{\pN{co2c}{3121}}
\eC{\pS{r7658}{3289}}{3265,1565}{3235,1600}{\pN{hp2}{3218}}
\eL{\pS{r7658}{3328}}{\pN{n4b}{3359}}
\eC{\pE{r7658}{1516}}{3440,1535}{3530,1560}{\pN{c16155}{3609}}
\eC{\pS{c24}{129}}{165,1080}{270,1115}{\pW{r209}{1124}}
\eC{\pS{hp3}{230}}{255,1065}{310,1105}{\pW{r209}{1118}}
\eL{\pS{n4c}{432}}{\pN{r209}{432}}
\eC{\pS{co2d}{635}}{610,1075}{540,1100}{\pE{r209}{1121}}
\eL{\pS{r209}{393}}{\pN{n3c}{283}}
\eL{\pS{r209}{437}}{\pN{c10}{444}}
\draw[conn] \pE{r209}{1134} -- (1400,1192) .. controls (1500,1205) and (1590,1255) .. \pW{c22}{1294};
\eC{\pS{co2e}{803}}{825,1060}{870,1090}{\pW{r14}{1112}}
\eL{\pS{c5125}{977}}{\pN{r14}{966}}
\eL{\pS{r14}{940}}{\pN{c68}{867}}
\draw[conn] \pN{c68}{792} .. controls (745,1160) and (703,1090) .. (703,1000) .. controls (703,920) and (735,890) .. (762,875) .. controls (860,840) and (1050,830) .. \pW{r3050}{817};
\eL{\pS{c900}{1279}}{\pN{r3050}{1246}}
\eC{\pE{c900}{705}}{1450,750}{1520,775}{\pW{r6}{796}}
\eL{\pS{co2f}{1619}}{\pN{r6}{1619}}
\eL{\pS{r3050}{1191}}{\pN{c5125}{1094}}
\draw[conn] \pE{r3050}{816} .. controls (1400,840) and (1470,910) .. (1470,980) .. controls (1470,1100) and (1570,1190) .. \pW{c22}{1285};
\eC{\pE{r14}{1133}}{1200,1150}{1450,1185}{\pW{c22}{1290}}
\eL{\pS{c11437}{1286}}{\pN{r5636}{1363}}
\eL{\pS{co2g}{1388}}{\pN{r5636}{1386}}
\eL{\pS{r5636}{1384}}{\pN{c118}{1385}}
\eL{\pS{r5636}{1425}}{\pW{c22}{1288}}
\eC{\pS{c84}{1558}}{1570,1045}{1595,1080}{\pN{r224}{1615}}
\eL{\pS{co2h}{1631}}{\pN{r224}{1631}}
\eL{\pS{r224}{1640}}{\pN{c22}{1677}}
\eL{\pS{c6010}{1754}}{\pN{r226}{1754}}
\eC{\pS{co2i}{1864}}{1850,1045}{1825,1075}{\pN{r226}{1784}}
\eC{\pS{r226}{1745}}{1735,1190}{1720,1225}{\pN{c22}{1705}}
\draw[conn] \pE{r6}{815} .. controls (1800,825) and (1955,860) .. (1955,965) .. controls (1955,1040) and (1905,1090) .. (1850,1125) .. controls (1790,1160) and (1740,1190) .. \pN{c22}{1707};
\draw[conn] \pW{r1699}{1138} -- (1906,1160) .. controls (1840,1175) and (1750,1180) .. \pN{c22}{1710};
\draw[conn] \pW{r207}{1134} -- (2110,1164) -- (1804,1187) .. controls (1750,1195) and (1735,1230) .. \pN{c22}{1712};
\draw[conn] \pW{r3145}{1136} -- (2638,1156) -- (2110,1162) -- (1804,1185) .. controls (1750,1193) and (1738,1230) .. \pN{c22}{1714};
\eL{\pS{c22}{1706}}{\pN{r220}{1737}}
\eL{\pS{c14}{1785}}{\pN{r220}{1753}}
\eL{\pS{r220}{1744}}{\pN{c65}{1744}}
\eC{\pS{c65}{1785}}{1815,1750}{1845,1780}{\pN{r945}{1870}}
\eC{\pS{c101}{1996}}{1975,1750}{1950,1775}{\pN{r945}{1931}}
\eC{\pW{r945}{1834}}{1790,1850}{1745,1885}{\pN{c37}{1717}}
\eL{\pS{r945}{1905}}{\pN{c143}{1905}}
\eC{\pE{r945}{1833}}{2010,1845}{2070,1885}{\pN{w5}{2103}}
\eL{\pS{c16255}{2108}}{\pN{r1699}{2108}}
\eC{\pS{co2j}{2275}}{2250,1075}{2195,1100}{\pE{r1699}{1116}}
\eL{\pS{r1699}{2108}}{\pN{c15972}{2108}}
\end{pgfonlayer}
\end{tikzpicture}
\end{document}
